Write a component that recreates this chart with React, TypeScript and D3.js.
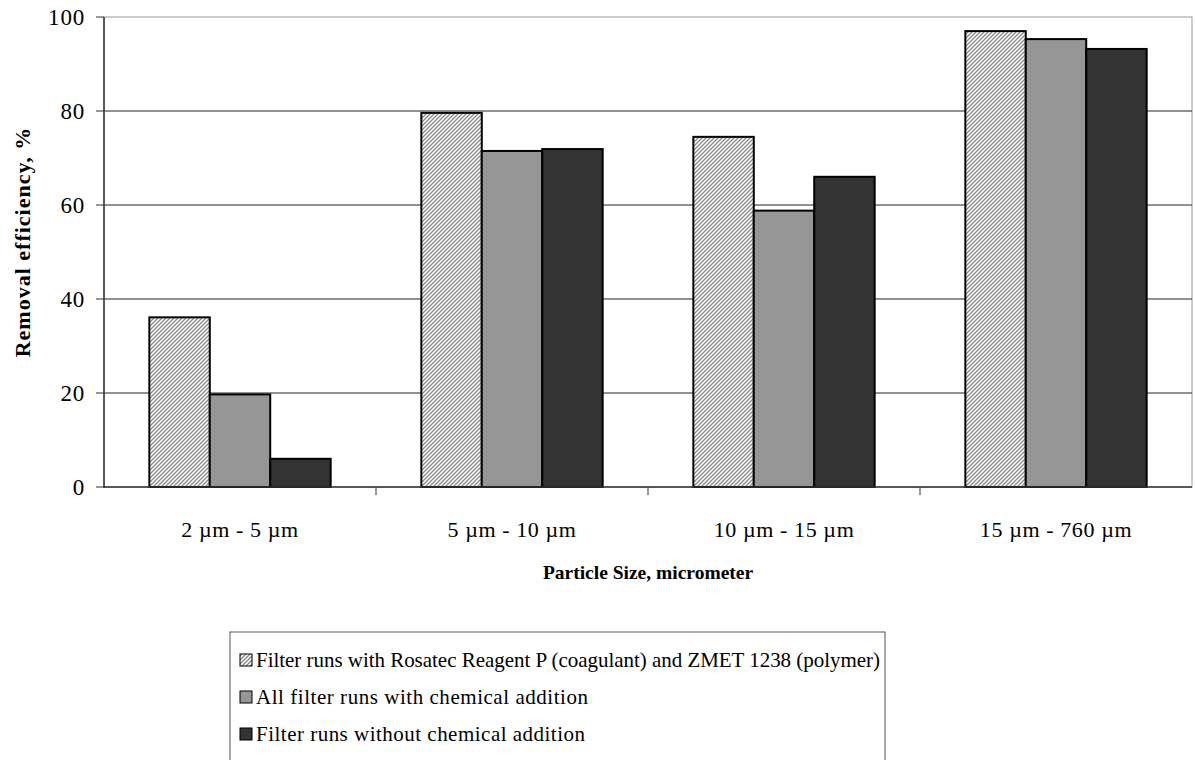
import * as d3 from "d3";

// chart data
const categories = ["2 µm - 5 µm", "5 µm - 10 µm", "10 µm - 15 µm", "15 µm - 760 µm"];
const seriesNames = [
	"Filter runs with Rosatec Reagent P (coagulant) and ZMET 1238 (polymer)",
	"All filter runs with chemical addition",
	"Filter runs without chemical addition",
];
const rosatecValues = [36.1, 79.6, 74.5, 97.0];
const chemicalValues = [19.7, 71.5, 58.8, 95.3];
const noChemicalValues = [6.0, 71.9, 66.0, 93.2];
const yTicks = [0, 20, 40, 60, 80, 100];

const W = 1195;
const H = 760;
const margin = { top: 17, right: 3, bottom: 273, left: 104 };
const FONT = "'Liberation Serif', 'Times New Roman', serif";
const fills = ["url(#hatch)", "#969696", "#333333"];
// legend label widths, as measured on the reference
const legendTextWidths = [624, 332, 329];

export default function App() {
	const series = [rosatecValues, chemicalValues, noChemicalValues];
	const x0 = d3
		.scaleBand<string>()
		.domain(categories)
		.range([margin.left, W - margin.right])
		.paddingInner(0)
		.paddingOuter(0);
	// gap width 150% of a bar → bars occupy 3 / 4.5 of each band
	const groupW = (x0.bandwidth() * 3) / 4.5;
	const x1 = d3
		.scaleBand<number>()
		.domain([0, 1, 2])
		.range([0, groupW]);
	const y = d3
		.scaleLinear()
		.domain([0, 100])
		.range([H - margin.bottom, margin.top]);

	const plotL = margin.left;
	const plotR = W - margin.right;
	const plotT = margin.top;
	const plotB = H - margin.bottom;

	return (
		<svg
			width={W}
			height={H}
			style={{ position: "absolute", left: 0, top: 0, display: "block", background: "#fff" }}
			fontFamily={FONT}
		>
			<defs>
				<pattern id="hatch" patternUnits="userSpaceOnUse" width={4} height={4}>
					<rect width={4} height={4} fill="#fff" />
					<path d="M-1,1 l2,-2 M0,4 l4,-4 M3,5 l2,-2" stroke="#8a8a8a" strokeWidth={1.3} />
				</pattern>
			</defs>

			{/* plot border (gray top/right) */}
			<rect x={plotL} y={plotT} width={plotR - plotL} height={plotB - plotT} fill="none" stroke="#999" strokeWidth={1} />

			{/* gridlines */}
			{yTicks
				.filter((t) => t > 0 && t < 100)
				.map((t) => (
					<line key={t} x1={plotL} x2={plotR} y1={y(t)} y2={y(t)} stroke="#222" strokeWidth={1} />
				))}

			{/* bars */}
			{categories.map((c, ci) => {
				const gx = x0(c)! + (x0.bandwidth() - groupW) / 2;
				return (
					<g key={c}>
						{series.map((vals, si) => (
							<rect
								key={si}
								x={gx + x1(si)!}
								y={y(vals[ci])}
								width={x1.bandwidth()}
								height={y(0) - y(vals[ci])}
								fill={fills[si]}
								stroke="#000"
								strokeWidth={2}
							/>
						))}
					</g>
				);
			})}

			{/* y axis */}
			<line x1={plotL} x2={plotL} y1={plotT} y2={plotB + 1} stroke="#333" strokeWidth={1.5} />
			{yTicks.map((t) => (
				<g key={t}>
					<line x1={plotL - 8} x2={plotL} y1={y(t)} y2={y(t)} stroke="#333" strokeWidth={1} />
					<text x={plotL - 19} y={y(t)} dy="0.35em" textAnchor="end" fontSize={23} letterSpacing={0.8}>
						{t}
					</text>
				</g>
			))}

			{/* x axis */}
			<line x1={plotL} x2={plotR} y1={plotB} y2={plotB} stroke="#333" strokeWidth={1.5} />
			{categories.slice(1).map((c) => (
				<line key={c} x1={x0(c)!} x2={x0(c)!} y1={plotB} y2={plotB + 8} stroke="#333" strokeWidth={1} />
			))}
			{categories.map((c) => (
				<text key={c} x={x0(c)! + x0.bandwidth() / 2} y={529} dy="0.35em" textAnchor="middle" fontSize={22} letterSpacing={0.6}>
					{c}
				</text>
			))}

			{/* axis titles */}
			<text x={648} y={572} dy="0.35em" textAnchor="middle" fontSize={19.5} fontWeight="bold">
				Particle Size, micrometer
			</text>
			<text
				transform={`translate(22,${(plotT + plotB) / 2 - 10}) rotate(-90)`}
				dy="0.35em"
				textAnchor="middle"
				fontSize={22}
				fontWeight="bold"
				letterSpacing={1}
			>
				Removal efficiency, %
			</text>

			{/* legend */}
			<rect x={230} y={632} width={655} height={140} fill="#fff" stroke="#555" strokeWidth={1} />
			{seriesNames.map((name, i) => {
				const ly = 660 + i * 37;
				return (
					<g key={name}>
						<rect x={240} y={ly - 6} width={12} height={12} fill={fills[i]} stroke="#000" strokeWidth={1} />
						<text x={256} y={ly} dy="0.35em" fontSize={21} textLength={legendTextWidths[i]} lengthAdjust="spacing">
							{name}
						</text>
					</g>
				);
			})}
		</svg>
	);
}
